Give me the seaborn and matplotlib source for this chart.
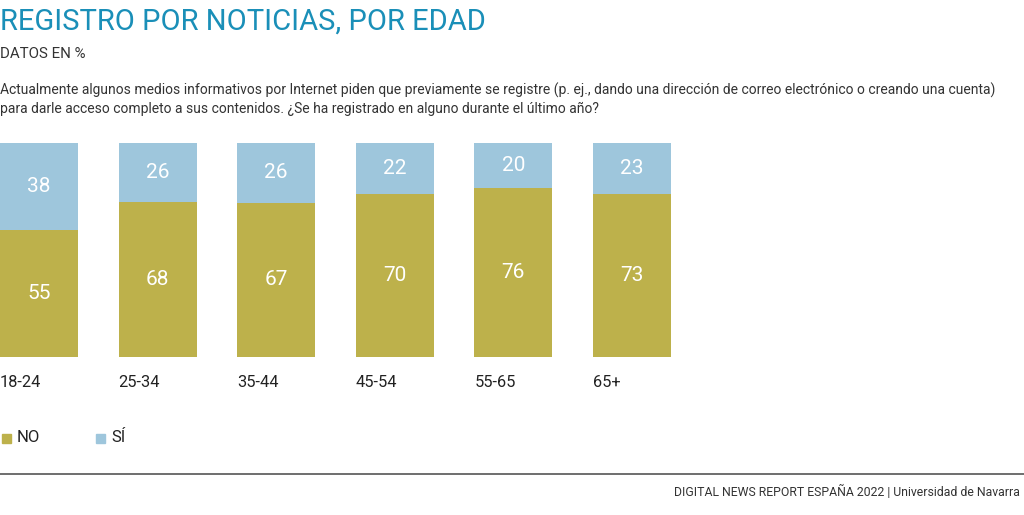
import pandas as pd
import seaborn as sns
import matplotlib.pyplot as plt
from matplotlib.patches import Rectangle

# datos
edades = ['18-24', '25-34', '35-44', '45-54', '55-65', '65+']
no_vals = [55, 68, 67, 70, 76, 73]
si_vals = [38, 26, 26, 22, 20, 23]

col_no = '#BDB14B'
col_si = '#9EC6DC'
col_title = '#1A8FB8'

df = pd.DataFrame({'edad': edades, 'NO': no_vals, 'SI': si_vals})
df['total'] = df['NO'] + df['SI']
df['no_share'] = df['NO'] / df['total']
df['full'] = df['total'] / df['total']

sns.set_theme(style='white')
plt.rcParams['font.family'] = ['Roboto', 'DejaVu Sans']

W, H = 1024, 515
fig = plt.figure(figsize=(W / 100, H / 100), dpi=100)

# ejes en pixeles: barras de y=143 a y=357
pitch = 118.6
bw = 78 / pitch
ax = fig.add_axes([0, 1 - 357 / H, 1, (357 - 143) / H])

sns.barplot(data=df, x='edad', y='full', color=col_si, width=bw,
            saturation=1, ax=ax, edgecolor='none')
sns.barplot(data=df, x='edad', y='no_share', color=col_no, width=bw,
            saturation=1, ax=ax, edgecolor='none')

x0 = -bw / 2
ax.set_xlim(x0, x0 + W / pitch)
ax.set_ylim(0, 1)
ax.axis('off')

for i, r in df.iterrows():
    ax.text(i, r['no_share'] / 2, f"{r['NO']}", ha='center', va='center',
            color='white', fontsize=15)
    ax.text(i, (1 + r['no_share']) / 2, f"{r['SI']}", ha='center', va='center',
            color='white', fontsize=15)
    ax.text(i - bw / 2, -0.12, r['edad'], ha='left', va='center',
            color='#222222', fontsize=11.8)

# textos de cabecera
fig.text(0, 1 - 22 / H, 'REGISTRO POR NOTICIAS, POR EDAD', color=col_title,
         fontsize=21, va='center', ha='left')
fig.text(0, 1 - 54 / H, 'DATOS EN %', color='#333333', fontsize=10.8,
         va='center', ha='left')
fig.text(0, 1 - 90 / H,
         'Actualmente algunos medios informativos por Internet piden que previamente se registre '
         '(p. ej., dando una dirección de correo electrónico o creando una cuenta)',
         color='#333333', fontsize=10, va='center', ha='left')
fig.text(0, 1 - 109 / H,
         'para darle acceso completo a sus contenidos. ¿Se ha registrado en alguno durante el último año?',
         color='#333333', fontsize=10, va='center', ha='left')

# leyenda
for xs, col, lab in [(2, col_no, 'NO'), (96, col_si, 'SÍ')]:
    fig.patches.append(Rectangle((xs / W, 1 - 443 / H), 9 / W, 9 / H,
                                 transform=fig.transFigure, color=col))
    fig.text((xs + 15) / W, 1 - 438 / H, lab, color='#222222', fontsize=12,
             va='center', ha='left')

# pie
fig.add_artist(plt.Line2D([0, 1], [1 - 474 / H, 1 - 474 / H],
                          transform=fig.transFigure, color='#555555', lw=1.2))
fig.text(1020 / W, 1 - 492 / H,
         'DIGITAL NEWS REPORT ESPAÑA 2022 | Universidad de Navarra',
         color='#333333', fontsize=8.8, va='center', ha='right')

fig.savefig('out.png', dpi=100)
